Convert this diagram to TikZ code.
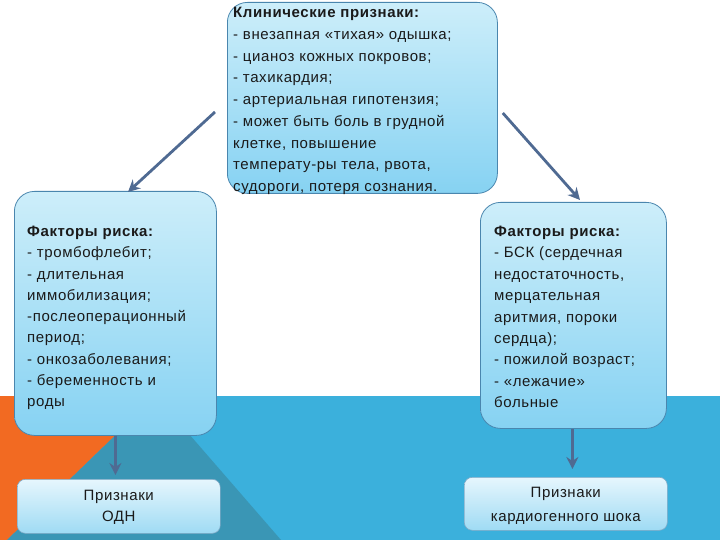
\documentclass[tikz,border=0pt]{standalone}
\usepackage{fontspec}
\setmainfont{Liberation Sans}[LetterSpace=4]
\usetikzlibrary{arrows.meta}
\definecolor{bandblue}{HTML}{3BB0DC}
\definecolor{darkband}{HTML}{3A96B5}
\definecolor{orangeband}{HTML}{F26A22}
\definecolor{boxtop}{HTML}{CDEEFA}
\definecolor{boxbot}{HTML}{86D2F2}
\definecolor{smalltop}{HTML}{E6F6FD}
\definecolor{smallbot}{HTML}{9FDBF4}
\definecolor{boxline}{HTML}{4A86AE}
\definecolor{arrowcol}{HTML}{4F6A92}
\definecolor{txtcol}{HTML}{1A1A1A}
\begin{document}
\begin{tikzpicture}[x=1pt,y=-1pt,
  bigbox/.style={draw=boxline, line width=0.8pt, rounded corners=20pt, top color=boxtop, bottom color=boxbot, inner sep=0pt, anchor=north west},
  smallbox/.style={draw=boxline!70, line width=0.6pt, rounded corners=8pt, top color=smalltop, bottom color=smallbot, inner sep=0pt, anchor=north west},
  txt/.style={align=left, inner sep=0pt, anchor=north west, text=txtcol},
  ctxt/.style={align=center, inner sep=0pt, text=txtcol},
  arr/.style={draw=arrowcol, line width=2.8pt, -{Stealth[length=12pt,width=12pt,inset=4pt]}}]
\useasboundingbox (0,0) rectangle (720,540);
\fill[white] (0,0) rectangle (720,540);
\fill[bandblue] (0,396) rectangle (720,540);
\fill[orangeband] (0,396) -- (156,396) -- (7,540) -- (0,540) -- cycle;
\fill[darkband] (156,396) -- (281,540) -- (7,540) -- cycle;
% boxes
\node[bigbox, minimum width=270pt, minimum height=191pt] (top) at (227,2) {};
\node[bigbox, minimum width=202pt, minimum height=244pt] (left) at (14,191) {};
\node[bigbox, minimum width=186pt, minimum height=226pt] (right) at (480,202) {};
\node[smallbox, minimum width=203pt, minimum height=54pt] (odn) at (17,479) {};
\node[smallbox, minimum width=203pt, minimum height=53pt] (kard) at (464,477) {};
% texts
\node[txt, font=\fontsize{15}{21.75}\selectfont] (toptxt) at (233,7)
 {\textbf{Клинические признаки:}\\- внезапная «тихая» одышка;\\- цианоз кожных покровов;\\- тахикардия;\\- артериальная гипотензия;\\- может быть боль в грудной\\клетке, повышение\\температу-ры тела, рвота,\\судороги, потеря сознания.};
\node[txt, font=\fontsize{15}{21.25}\selectfont] (lefttxt) at (27,226)
 {\textbf{Факторы риска:}\\- тромбофлебит;\\- длительная\\иммобилизация;\\-послеоперационный\\период;\\- онкозаболевания;\\- беременность и\\роды};
\node[txt, font=\fontsize{15}{21.4}\selectfont] (righttxt) at (494,226)
 {\textbf{Факторы риска:}\\- БСК (сердечная\\недостаточность,\\мерцательная\\аритмия, пороки\\сердца);\\- пожилой возраст;\\- «лежачие»\\больные};
\node[ctxt, font=\fontsize{15}{21}\selectfont] (odntxt) at ([yshift=-1pt]odn.center) {Признаки\\ОДН};
\node[ctxt, font=\fontsize{15}{24}\selectfont] (kardtxt) at ([yshift=-2pt]kard.center) {Признаки\\кардиогенного шока};
% arrows
\draw[arr] ([shift={(-12,110)}]top.north west) -- ([shift={(114,1)}]left.north west);
\draw[arr] ([shift={(5,111)}]top.north east) -- ([shift={(100,-2)}]right.north west);
\draw[arr] (left.south) -- ([yshift=4pt]left.south |- odn.north);
\draw[arr] ([xshift=-1pt]right.south) -- ([xshift=-1pt,yshift=8pt]right.south |- kard.north);
\end{tikzpicture}
\end{document}
